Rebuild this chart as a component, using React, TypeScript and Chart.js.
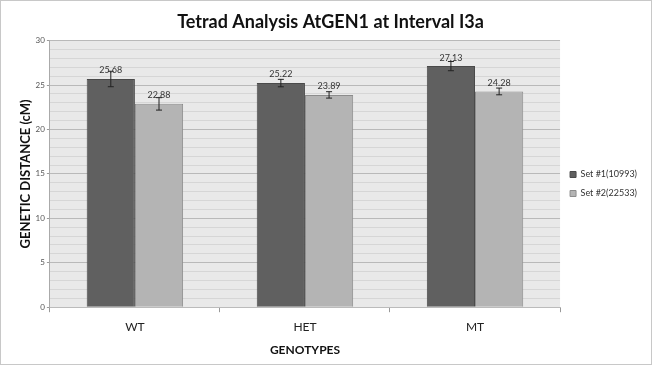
import React, { useEffect, useRef } from "react";
import { Chart, registerables } from "chart.js";

Chart.register(...registerables);

const categories = ["WT", "HET", "MT"];
const set1Values = [25.68, 25.22, 27.13];
const set2Values = [22.88, 23.89, 24.28];
const set1Errors = [0.87, 0.42, 0.52];
const set2Errors = [0.7, 0.36, 0.38];
const seriesNames = ["Set #1(10993)", "Set #2(22533)"];

const FONT = "Lato, 'Open Sans', sans-serif";

const bgPlugin = {
  id: "plotBg",
  beforeDraw(chart: any) {
    const { ctx, chartArea } = chart;
    ctx.save();
    ctx.fillStyle = "#e9e9e9";
    ctx.fillRect(chartArea.left, chartArea.top, chartArea.right - chartArea.left, chartArea.bottom - chartArea.top);
    ctx.restore();
  },
};

const errorPlugin = {
  id: "errBars",
  afterDatasetsDraw(chart: any) {
    const { ctx } = chart;
    const yScale = chart.scales.y;
    const errs = [set1Errors, set2Errors];
    ctx.save();
    chart.data.datasets.forEach((ds: any, di: number) => {
      const meta = chart.getDatasetMeta(di);
      meta.data.forEach((bar: any, i: number) => {
        const v = ds.data[i];
        const e = errs[di][i];
        const x = bar.x;
        const yTop = yScale.getPixelForValue(v + e);
        const yBot = yScale.getPixelForValue(v - e);
        ctx.strokeStyle = "#222";
        ctx.lineWidth = 1;
        ctx.beginPath();
        ctx.moveTo(x, yTop);
        ctx.lineTo(x, yBot);
        ctx.moveTo(x - 3, yTop);
        ctx.lineTo(x + 3, yTop);
        ctx.moveTo(x - 3, yBot);
        ctx.lineTo(x + 3, yBot);
        ctx.stroke();
        ctx.fillStyle = "#333";
        ctx.font = `9px ${FONT}`;
        ctx.textAlign = "center";
        ctx.textBaseline = "bottom";
        ctx.fillText(v.toFixed(2), x, yScale.getPixelForValue(v) - 4);
      });
    });
    ctx.restore();
  },
};

export default function App() {
  const ref = useRef<HTMLCanvasElement>(null);
  useEffect(() => {
    const chart = new Chart(ref.current!, {
      type: "bar",
      data: {
        labels: categories,
        datasets: [
          {
            label: seriesNames[0],
            data: set1Values,
            backgroundColor: "#606060",
            borderColor: "#4a4a4a",
            borderWidth: 1,
          },
          {
            label: seriesNames[1],
            data: set2Values,
            backgroundColor: "#b4b4b4",
            borderColor: "#8c8c8c",
            borderWidth: 1,
          },
        ],
      },
      options: {
        animation: false,
        responsive: false,
        maintainAspectRatio: false,
        layout: { padding: { left: 13, right: 4, top: 6, bottom: 3 } },
        datasets: { bar: { categoryPercentage: 0.567, barPercentage: 1 } } as any,
        plugins: {
          title: {
            display: true,
            text: "Tetrad Analysis AtGEN1 at Interval I3a",
            font: { family: FONT, size: 18, weight: "bold" },
            color: "#111",
            padding: { top: 4, bottom: 8 },
          },
          legend: {
            position: "right",
            labels: {
              boxWidth: 6,
              boxHeight: 6,
              font: { family: FONT, size: 9 },
              color: "#333",
              padding: 10,
            },
          },
          tooltip: { enabled: false },
        },
        scales: {
          x: {
            grid: {
              display: true,
              drawOnChartArea: false,
              offset: true,
              tickLength: 5,
              color: "#999",
            },
            border: { color: "#bbb" },
            ticks: { font: { family: FONT, size: 12 }, color: "#222", padding: 8 },
            title: {
              display: true,
              text: "GENOTYPES",
              font: { family: FONT, size: 12, weight: "bold" },
              color: "#111",
              padding: { top: 0 },
            },
          },
          y: {
            min: 0,
            max: 30,
            border: { color: "#aaa" },
            grid: {
              color: (c: any) => (c.tick && c.tick.value % 5 === 0 ? "#b9b9b9" : "#d6d6d6"),
              tickLength: 3,
              tickColor: (c: any) => (c.tick && c.tick.value % 5 === 0 ? "#999" : "rgba(0,0,0,0)"),
            } as any,
            ticks: {
              stepSize: 1,
              autoSkip: false,
              padding: 2,
              font: { family: FONT, size: 8 },
              color: "#555",
              callback: (v: any) => (Number(v) % 5 === 0 ? String(v) : ""),
            },
            title: {
              display: true,
              text: "GENETIC DISTANCE (cM)",
              font: { family: FONT, size: 13, weight: "bold" },
              color: "#111",
              padding: { top: 4, bottom: 0 },
            },
          },
        },
      },
      plugins: [bgPlugin, errorPlugin],
    });
    return () => chart.destroy();
  }, []);
  return (
    <div
      style={{
        position: "fixed",
        left: 0,
        top: 0,
        width: 652,
        height: 365,
        background: "#fff",
        boxSizing: "border-box",
        border: "1px solid #c8c8c8",
      }}
    >
      <canvas ref={ref} width={650} height={363} style={{ display: "block" }} />
    </div>
  );
}
